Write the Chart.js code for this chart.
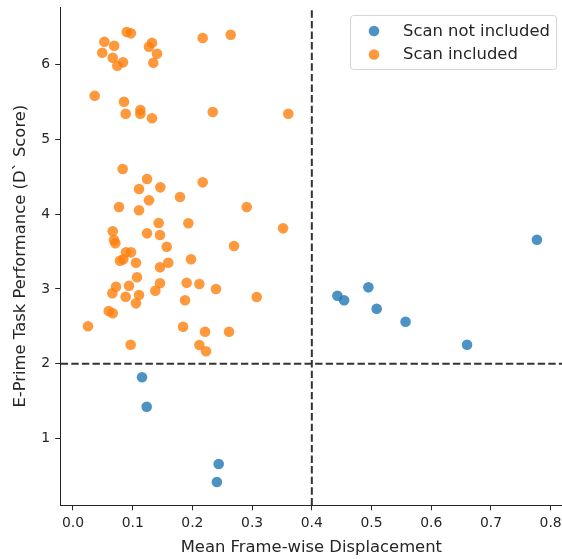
<!DOCTYPE html>
<html>
<head>
<meta charset="utf-8">
<script src="https://cdn.jsdelivr.net/npm/chart.js@4/dist/chart.umd.min.js"></script>
<style>
  html, body { margin: 0; padding: 0; background: #fff; overflow: hidden; }
  #wrap { width: 562px; height: 559px; }
</style>
</head>
<body>
<div id="wrap"><canvas id="c" width="562" height="559"></canvas></div>
<script>
// Subjects whose scans were dropped: mean framewise displacement vs D' score
const excludedFD    = [0.1156, 0.1234, 0.244, 0.241, 0.4428, 0.454, 0.4947, 0.5086, 0.557, 0.66, 0.777];
const excludedScore = [1.818, 1.425, 0.659, 0.418, 2.909, 2.848, 3.021, 2.735, 2.561, 2.254, 3.658];

// Subjects whose scans were kept
const includedFD = [
  0.090, 0.097, 0.0525, 0.069, 0.049, 0.0665, 0.0742, 0.0838, 0.1273, 0.1323, 0.1407, 0.1345, 0.2172, 0.2641,
  0.0363, 0.0854, 0.0882, 0.1128, 0.1128, 0.1323, 0.234, 0.3606,
  0.0832, 0.124, 0.1106, 0.1463, 0.1273, 0.1792, 0.2172, 0.077, 0.1106, 0.291, 0.1435, 0.1932, 0.3518,
  0.0665, 0.124, 0.1457, 0.0687, 0.0709, 0.157, 0.2697, 0.0888, 0.0972, 0.0787, 0.0843, 0.1055, 0.1457,
  0.1596, 0.1977, 0.1072, 0.072, 0.0938, 0.0658, 0.0882, 0.1106, 0.1055, 0.1457, 0.1379, 0.1904, 0.2116,
  0.2395, 0.3077, 0.1876, 0.0598, 0.0665, 0.0251, 0.0966, 0.1843, 0.2211, 0.2613, 0.2116, 0.2228
];
const includedScore = [
  6.435, 6.417, 6.305, 6.251, 6.158, 6.091, 5.984, 6.029, 6.238, 6.291, 6.144, 6.024, 6.354, 6.398,
  5.583, 5.503, 5.342, 5.392, 5.342, 5.281, 5.365, 5.342,
  4.603, 4.469, 4.336, 4.358, 4.184, 4.229, 4.425, 4.095, 4.051, 4.095, 3.881, 3.877, 3.810,
  3.770, 3.743, 3.721, 3.654, 3.610, 3.564, 3.574, 3.489, 3.489, 3.377, 3.395, 3.350, 3.289,
  3.350, 3.396, 3.155, 3.029, 3.043, 2.941, 2.896, 2.918, 2.807, 3.075, 2.976, 3.083, 3.066,
  2.999, 2.892, 2.848, 2.705, 2.674, 2.500, 2.254, 2.495, 2.428, 2.428, 2.250, 2.166
];

// Quality-control cut-offs
const fdThreshold = 0.4;
const scoreThreshold = 2;

// Axis limits and ticks
const X_MIN = -0.0206, X_MAX = 0.819;
const Y_MIN = 0.107, Y_MAX = 6.769;
const xTickStep = 0.1, yTickStep = 1;

const seriesLabels = ['Scan not included', 'Scan included'];
const BLUE = 'rgba(31,119,180,0.8)';
const ORANGE = 'rgba(255,127,14,0.8)';
const INK = '#262626';
const FONT = 'DejaVu Sans';
const TICK_SIZE = 13.9;
const LABEL_SIZE = 16.4;

const toPoints = (xs, ys) => xs.map((x, i) => ({ x: x, y: ys[i] }));

// Legend drawn inside the axes, upper right
const innerLegend = {
  id: 'innerLegend',
  afterDraw(chart) {
    const ctx = chart.ctx;
    const area = chart.chartArea;
    const boxW = 206, boxH = 54;
    const bx = area.right - 5.5 - boxW, by = area.top + 8.5;
    ctx.save();
    ctx.beginPath();
    ctx.roundRect(bx, by, boxW, boxH, 3);
    ctx.fillStyle = 'rgba(255,255,255,0.8)';
    ctx.fill();
    ctx.strokeStyle = 'rgba(204,204,204,0.8)';
    ctx.lineWidth = 1;
    ctx.stroke();
    const items = chart.data.datasets.filter(d => d.inLegend);
    items.forEach((d, i) => {
      const cy = by + 15.5 + i * 23.5;
      ctx.beginPath();
      ctx.arc(bx + 23.5, cy, 5.3, 0, Math.PI * 2);
      ctx.fillStyle = d.backgroundColor;
      ctx.fill();
      ctx.fillStyle = INK;
      ctx.font = LABEL_SIZE + 'px "' + FONT + '"';
      ctx.textBaseline = 'middle';
      ctx.textAlign = 'left';
      ctx.fillText(d.label, bx + 52.5, cy + 0.5);
    });
    ctx.restore();
  }
};

new Chart(document.getElementById('c'), {
  type: 'scatter',
  data: {
    datasets: [
      {
        label: seriesLabels[0], inLegend: true,
        data: toPoints(excludedFD, excludedScore),
        backgroundColor: BLUE, borderWidth: 0, pointRadius: 5.3, pointHoverRadius: 5.3
      },
      {
        label: seriesLabels[1], inLegend: true,
        data: toPoints(includedFD, includedScore),
        backgroundColor: ORANGE, borderWidth: 0, pointRadius: 5.3, pointHoverRadius: 5.3
      },
      {
        type: 'line', label: 'fd cut-off',
        data: [{ x: fdThreshold, y: Y_MIN }, { x: fdThreshold, y: Y_MAX }],
        borderColor: '#333', borderWidth: 2, borderDash: [7.4, 3.2],
        pointRadius: 0, fill: false
      },
      {
        type: 'line', label: 'score cut-off',
        data: [{ x: X_MIN, y: scoreThreshold }, { x: X_MAX, y: scoreThreshold }],
        borderColor: '#333', borderWidth: 2, borderDash: [7.4, 3.2],
        pointRadius: 0, fill: false
      }
    ]
  },
  options: {
    responsive: false,
    animation: false,
    devicePixelRatio: 1,
    layout: { autoPadding: false, padding: { top: 7, left: 0, right: 0, bottom: 0 } },
    plugins: { legend: { display: false }, tooltip: { enabled: false } },
    scales: {
      x: {
        type: 'linear', min: X_MIN, max: X_MAX,
        ticks: {
          stepSize: xTickStep, includeBounds: false, color: INK, padding: 0,
          // the taller line box puts the labels a few pixels below the tick marks
          font: { family: FONT, size: TICK_SIZE, lineHeight: (TICK_SIZE * 1.2 + 10) / TICK_SIZE },
          maxRotation: 0, callback: v => v.toFixed(1)
        },
        grid: { display: true, drawOnChartArea: false, drawTicks: true, tickLength: 5, tickColor: INK, tickWidth: 1 },
        border: { display: true, color: INK, width: 1 },
        title: {
          display: true, text: 'Mean Frame-wise Displacement', color: INK,
          font: { family: FONT, size: LABEL_SIZE }, padding: { top: 0, bottom: 1.9 }
        },
        afterFit(scale) {
          scale.paddingLeft = 0; scale.paddingRight = 0;
          scale.height = 53.7;
        }
      },
      y: {
        type: 'linear', min: Y_MIN, max: Y_MAX,
        ticks: { stepSize: yTickStep, includeBounds: false, color: INK, font: { family: FONT, size: TICK_SIZE }, padding: 5 },
        grid: { display: true, drawOnChartArea: false, drawTicks: true, tickLength: 5.5, tickColor: INK, tickWidth: 1 },
        border: { display: true, color: INK, width: 1 },
        title: {
          display: true, text: 'E-Prime Task Performance (D` Score)', color: INK,
          font: { family: FONT, size: LABEL_SIZE }, padding: { top: 11.2, bottom: 0 }
        },
        afterFit(scale) {
          scale.paddingTop = 0; scale.paddingBottom = 0;
          scale.width = 60.7;
        }
      }
    }
  },
  plugins: [innerLegend]
});
</script>
</body>
</html>
